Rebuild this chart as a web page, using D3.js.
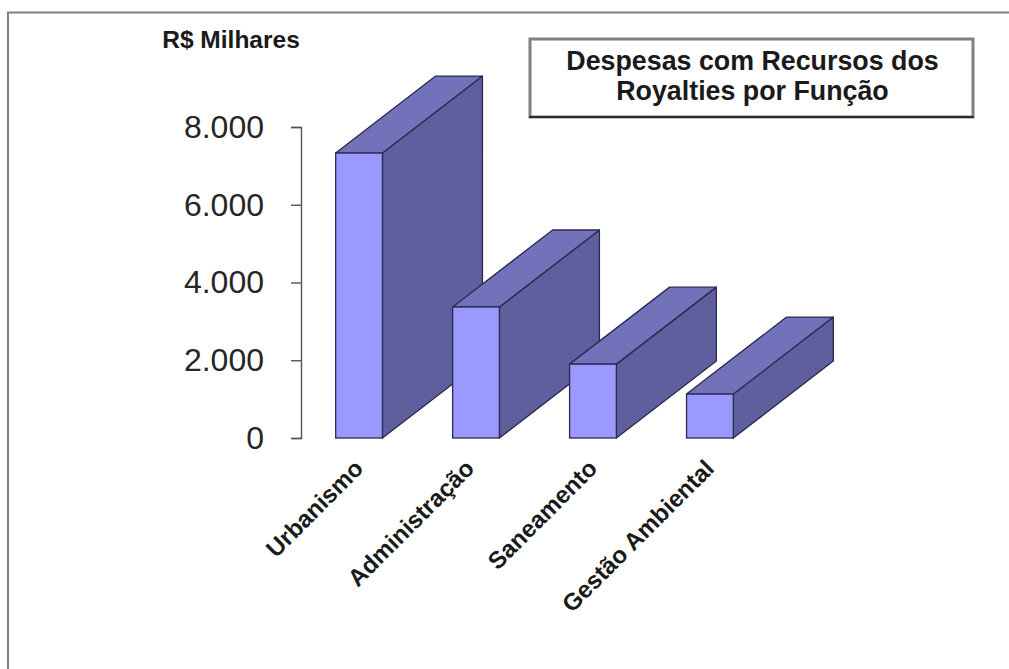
<!DOCTYPE html>
<html lang="pt-BR">
<head>
<meta charset="utf-8">
<script src="https://cdnjs.cloudflare.com/ajax/libs/d3/7.8.5/d3.min.js"></script>
<style>
  html, body { margin: 0; padding: 0; background: #fff; }
  svg { display: block; font-family: "Liberation Sans", Arial, sans-serif; }
</style>
</head>
<body>
<svg id="chart" width="1009" height="669"></svg>
<script>
// Despesas por função, em R$ milhares
const categories = ["Urbanismo", "Administração", "Saneamento", "Gestão Ambiental"];
const values = [7330, 3370, 1900, 1130];
const tickValues = [0, 2000, 4000, 6000, 8000];
const titleLines = ["Despesas com Recursos dos", "Royalties por Função"];

const svg = d3.select("#chart");
const ptBR = d3.formatLocale({ decimal: ",", thousands: ".", grouping: [3], currency: ["R$", ""] });
const tickFormat = ptBR.format(",d");

const x = d3.scaleBand().domain(categories).range([265.5, 803.5]).paddingInner(0.6).paddingOuter(0.6);
const y = d3.scaleLinear().domain([0, 8000]).range([438, 127]);

// Outer frame: only the top and left edges are drawn
svg.append("path")
  .attr("d", "M8,669V12.5H1009")
  .attr("fill", "none").attr("stroke", "#808080").attr("stroke-width", 2);

// Value axis
const axis = svg.append("g")
  .attr("transform", "translate(301,0)")
  .call(d3.axisLeft(y).tickValues(tickValues).tickFormat(tickFormat).tickSize(10).tickPadding(27));
axis.selectAll("path, line").attr("stroke", "#555").attr("stroke-width", 1.4);
axis.selectAll("text").attr("font-size", 32).attr("fill", "#262626").attr("font-family", "Liberation Sans");

// Extruded bars, left to right so that each front covers its neighbour's side
const depthX = 100, depthY = 77;
const colors = { front: "#9999ff", top: "#7272bb", side: "#5f5f9e", edge: "#2a2a50" };
const bars = svg.append("g").selectAll("g").data(categories).join("g");
const geom = (c, i) => ({ l: x(c), r: x(c) + x.bandwidth(), t: y(values[i]), b: y(0) });

bars.append("path").attr("fill", colors.side).attr("stroke", colors.edge).attr("stroke-width", 1.3)
  .attr("stroke-linejoin", "round")
  .attr("d", (c, i) => { const g = geom(c, i);
    return `M${g.r},${g.t}L${g.r + depthX},${g.t - depthY}V${g.b - depthY}L${g.r},${g.b}Z`; });
bars.append("path").attr("fill", colors.top).attr("stroke", colors.edge).attr("stroke-width", 1.3)
  .attr("stroke-linejoin", "round")
  .attr("d", (c, i) => { const g = geom(c, i);
    return `M${g.l},${g.t}L${g.l + depthX},${g.t - depthY}H${g.r + depthX}L${g.r},${g.t}Z`; });
bars.append("rect").attr("fill", colors.front).attr("stroke", colors.edge).attr("stroke-width", 1.3)
  .attr("x", (c) => x(c)).attr("width", x.bandwidth())
  .attr("y", (c, i) => y(values[i])).attr("height", (c, i) => y(0) - y(values[i]));

// Category labels, slanted and ending under each bar; the long accented label sits a little further left
const labelNudge = new Map([["Administração", -6]]);
svg.append("g").selectAll("text").data(categories).join("text")
  .attr("transform", (c) => `translate(${x(c) + 29 + (labelNudge.get(c) || 0)},${470}) rotate(-45)`)
  .attr("text-anchor", "end")
  .attr("font-size", 24).attr("font-weight", "bold").attr("fill", "#1a1a1a")
  .text((c) => c);

// Unit label
svg.append("text").attr("x", 231).attr("y", 48).attr("text-anchor", "middle")
  .attr("font-size", 24.5).attr("font-weight", "bold").attr("fill", "#1a1a1a").text("R$ Milhares");

// Title box
const box = svg.append("g");
box.append("rect").attr("x", 530).attr("y", 39).attr("width", 443).attr("height", 78)
  .attr("fill", "#fff").attr("stroke", "#808080").attr("stroke-width", 3);
box.append("line").attr("x1", 529).attr("x2", 974).attr("y1", 117).attr("y2", 117)
  .attr("stroke", "#111").attr("stroke-width", 1.6);
box.selectAll("text").data(titleLines).join("text")
  .attr("x", 752.5).attr("y", (d, i) => 69.5 + i * 30).attr("text-anchor", "middle")
  .attr("font-size", 26.8).attr("font-weight", "bold").attr("fill", "#1a1a1a")
  .text((d) => d);
</script>
</body>
</html>
